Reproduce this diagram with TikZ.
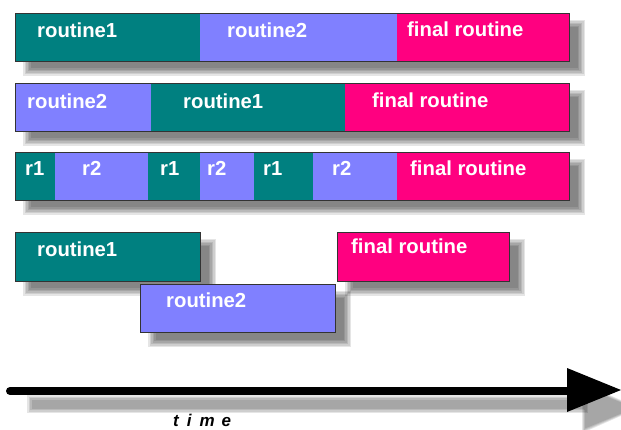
\documentclass[tikz,border=0pt]{standalone}
\usepackage{fontspec}
\setmainfont{Liberation Sans}
\definecolor{teal1}{HTML}{008080}
\definecolor{peri}{HTML}{8080FF}
\definecolor{mag}{HTML}{FF0080}
\begin{document}
\begin{tikzpicture}[x=1pt,y=-1pt,
  lbl/.style={anchor=base west,inner sep=0pt,text=white,font=\fontsize{20.3}{21}\selectfont\bfseries},
  barline/.style={draw=black!80,line width=0.9pt}]
\useasboundingbox (0,0) rectangle (621,430);
% soft shadow macro
\newcommand{\softshadow}[4]{%
  \foreach \k in {-4,-2.5,-1,0.5,2,3.5}{%
    \fill[black,fill opacity=0.1] ({#1+12+\k},{#2+11+\k}) rectangle ({#3+12-\k},{#4+11-\k});
  }}
% shadows
\softshadow{15}{13}{569}{61}
\softshadow{15}{83}{569}{131}
\softshadow{15}{152}{569}{200}
\softshadow{15}{232}{200}{281}
\softshadow{140}{284}{335}{332}
\softshadow{337}{232}{509}{281}
% arrow shadow
\foreach \k in {-3,-1.5,0,1.5}{%
  \fill[black,fill opacity=0.1] ({30+\k},{398+\k}) rectangle ({585-\k},{410-\k});
  \fill[black,fill opacity=0.1] ({584+0.6*\k},{386+\k}) -- ({636-\k},{408}) -- ({584+0.6*\k},{430-\k}) -- cycle;
}
% row 1
\fill[teal1] (15,13) rectangle (200,61);
\fill[peri] (200,13) rectangle (397,61);
\fill[mag] (397,13) rectangle (569,61);
\draw[barline] (15,13) rectangle (569,61);
\node[lbl] (a1) at (37,38) {routine1};
\node[lbl] (a2) at (227,38) {routine2};
\node[lbl] (a3) at (407,37) {final routine};
% row 2
\fill[peri] (15,83) rectangle (151,131);
\fill[teal1] (151,83) rectangle (345,131);
\fill[mag] (345,83) rectangle (569,131);
\draw[barline] (15,83) rectangle (569,131);
\node[lbl] (b1) at (27,109) {routine2};
\node[lbl] (b2) at (183,109) {routine1};
\node[lbl] (b3) at (372,108) {final routine};
% row 3
\fill[teal1] (15,152) rectangle (55,200);
\fill[peri] (55,152) rectangle (148,200);
\fill[teal1] (148,152) rectangle (200,200);
\fill[peri] (200,152) rectangle (254,200);
\fill[teal1] (254,152) rectangle (313,200);
\fill[peri] (313,152) rectangle (397,200);
\fill[mag] (397,152) rectangle (569,200);
\draw[barline] (15,152) rectangle (569,200);
\node[lbl] (c1) at (25,176) {r1};
\node[lbl] (c2) at (82,176) {r2};
\node[lbl] (c3) at (160,176) {r1};
\node[lbl] (c4) at (207,176) {r2};
\node[lbl] (c5) at (263,176) {r1};
\node[lbl] (c6) at (332,176) {r2};
\node[lbl] (c7) at (410,176) {final routine};
% row 4
\fill[teal1] (15,232) rectangle (200,281);
\draw[barline] (15,232) rectangle (200,281);
\node[lbl] (d1) at (37,257) {routine1};
\fill[peri] (140,284) rectangle (335,332);
\draw[barline] (140,284) rectangle (335,332);
\node[lbl] (d2) at (166,308) {routine2};
\fill[mag] (337,232) rectangle (509,281);
\draw[barline] (337,232) rectangle (509,281);
\node[lbl] (d3) at (351,254) {final routine};
% time arrow
\coordinate (ts) at (10,391);
\coordinate (te) at (568,391);
\draw[line width=8pt,line cap=round] (ts) -- (te);
\fill[black] (567,368) -- (621,390) -- (567,412) -- cycle;
\node[anchor=base west,inner sep=0pt,font=\fontsize{17}{18}\selectfont\bfseries\itshape] (tm) at (173,426) {t\hspace{8pt}i\hspace{8pt}m\hspace{7pt}e};
\end{tikzpicture}
\end{document}
